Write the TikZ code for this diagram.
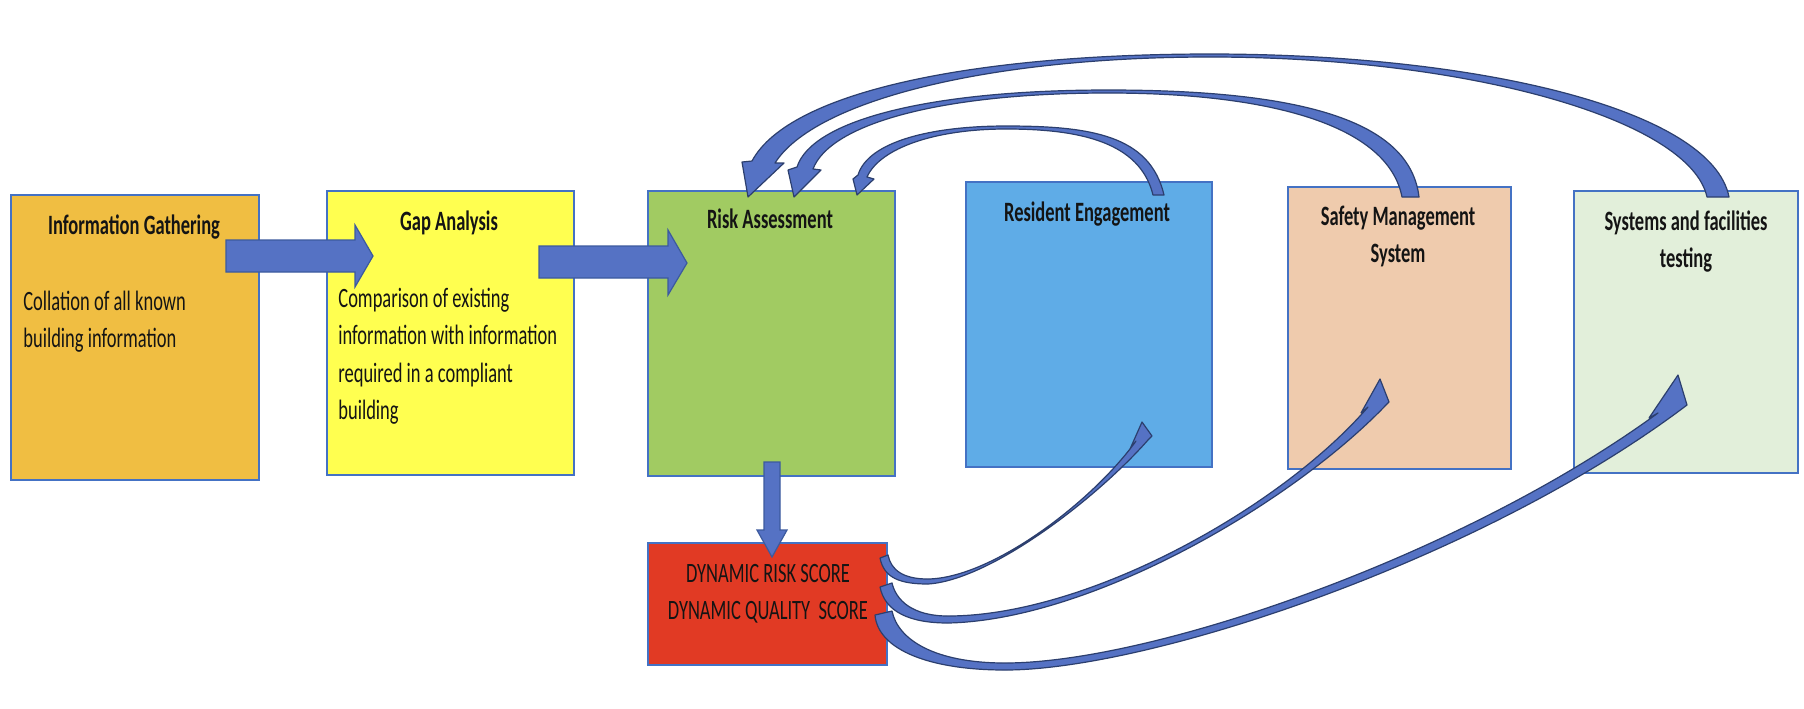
\documentclass[tikz,border=0pt]{standalone}
\usepackage{fontspec}
\setmainfont{Carlito}[FakeStretch=0.66]
\usepackage{tikz}
\usetikzlibrary{calc}
\definecolor{fg}{HTML}{141414}
\definecolor{boxline}{HTML}{4472C4}
\definecolor{infofill}{HTML}{F0BE42}
\definecolor{gapfill}{HTML}{FFFF50}
\definecolor{riskfill}{HTML}{A1CB62}
\definecolor{resfill}{HTML}{5FACE7}
\definecolor{smsfill}{HTML}{EFCBAD}
\definecolor{sysfill}{HTML}{E2EFDA}
\definecolor{scorefill}{HTML}{E13A24}
\definecolor{arrowfill}{HTML}{5572C4}
\definecolor{arrowedge}{HTML}{3C5A9E}
\definecolor{ribbonedge}{HTML}{2C3F6E}
\newcommand{\diagfont}{\fontsize{14pt}{18.75pt}\selectfont}
\tikzset{
  stagebox/.style={draw=boxline,line width=0.7pt,inner sep=0pt,outer sep=0pt},
  tightspace/.style={execute at begin node={\spaceskip=0.15em\xspaceskip=0.2em\relax}},
  heading/.style={font=\diagfont\bfseries,text=fg,inner sep=0pt,anchor=base,tightspace},
  bodytext/.style={font=\diagfont,text=fg,inner sep=0pt,anchor=base west,align=left,tightspace},
  scoretext/.style={font=\diagfont,text=fg,inner sep=0pt,anchor=base,align=center,tightspace},
  blockarrow/.style={fill=arrowfill,draw=arrowedge,line width=0.6pt},
  ribbon/.style={fill=arrowfill,draw=ribbonedge,line width=0.6pt,line join=round}
}

\begin{document}
\begin{tikzpicture}[x=0.5pt,y=-0.5pt]
  \fill[white] (0,0) rectangle (1804,708);
  \useasboundingbox (0,0) rectangle (1804,708);

  % stages
  \node[stagebox,fill=infofill,minimum width=124pt,minimum height=142.5pt] (info) at (135,337.5) {};
  \node[stagebox,fill=gapfill,minimum width=123.5pt,minimum height=142pt] (gap) at (450.5,333) {};
  \node[stagebox,fill=riskfill,minimum width=123.5pt,minimum height=142.5pt] (risk) at (771.5,333.5) {};
  \node[stagebox,fill=resfill,minimum width=123pt,minimum height=142.5pt] (res) at (1089,324.5) {};
  \node[stagebox,fill=smsfill,minimum width=111.5pt,minimum height=141pt] (sms) at (1399.5,328) {};
  \node[stagebox,fill=sysfill,minimum width=112pt,minimum height=141pt] (sys) at (1686,332) {};
  \node[stagebox,fill=scorefill,minimum width=119.5pt,minimum height=61pt] (score) at (767.5,604) {};

  % block arrows along the chain
  \draw[blockarrow] ([shift={(-33,45)}]info.north east) -- ++(129,0) -- ++(0,-15) -- ++(18,31)
    -- ++(-18,31) -- ++(0,-15) -- ++(-129,0) -- cycle;
  \draw[blockarrow] ([shift={(-35,55)}]gap.north east) -- ++(129,0) -- ++(0,-16) -- ++(19,33)
    -- ++(-19,32) -- ++(0,-17) -- ++(-129,0) -- cycle;
  \draw[blockarrow] ([shift={(-7.5,-14)}]risk.south) -- ++(16,0) -- ++(0,68) -- ++(7,0)
    -- ++(-15,27) -- ++(-15,-27) -- ++(7,0) -- cycle;

  % texts
  \node[heading] (infoHead) at (134,234) {Information Gathering};
  \node[bodytext,text width=118pt] (infoBody) at (23,310) {Collation of all known\\building information};
  \node[heading] (gapHead) at (449,230) {Gap Analysis};
  \node[bodytext,text width=118pt] (gapBody) at (338,307)
    {Comparison of existing\\information with information\\required in a compliant\\building};
  \node[heading] (riskHead) at (770,228) {Risk Assessment};
  \node[heading] (resHead) at (1087,221) {Resident Engagement};
  \node[heading,text width=105pt,align=center] (smsHead) at (1398,225) {Safety Management\\System};
  \node[heading,text width=105pt,align=center] (sysHead) at (1686,230) {Systems and facilities\\testing};
  \node[scoretext,text width=112pt] (scoreText) at (768,582) {DYNAMIC RISK SCORE\\DYNAMIC QUALITY\ \ SCORE};

  % feedback into the risk assessment
  \draw[ribbon] ([shift={(43,6)}]sys.north) .. controls (1712,110) and (1480,54) .. (1210,54)
    .. controls (980,54) and (790,90) .. (752,161) -- (742,162) -- ([shift={(-23.5,6)}]risk.north)
    -- (784,163) -- (775,163) .. controls (815,100) and (990,57) .. (1210,57)
    .. controls (1470,57) and (1690,120) .. ([shift={(21,6)}]sys.north) -- cycle;
  \draw[ribbon] ([shift={(19.5,10)}]sms.north) .. controls (1410,120) and (1300,90) .. (1108,90)
    .. controls (930,90) and (812,120) .. (797,167) -- (788,170) -- ([shift={(22.5,6)}]risk.north)
    -- (821,170) -- (813,169) .. controls (830,124) and (940,93) .. (1108,93)
    .. controls (1270,93) and (1388,125) .. ([shift={(2.5,10)}]sms.north) -- cycle;
  \draw[ribbon] ([shift={(75,13)}]res.north) .. controls (1150,135) and (1090,126) .. (1006,126)
    .. controls (930,126) and (868,142) .. (858,175) -- (853,179) -- ([shift={(85.5,4)}]risk.north)
    -- (874,179) -- (867,177) .. controls (880,148) and (935,129) .. (1006,129)
    .. controls (1080,129) and (1140,142) .. ([shift={(64,13)}]res.north) -- cycle;

  % scores handed on to the other stages
  \draw[ribbon] ([shift={(-7,-46)}]score.east) .. controls (884,578) and (900,584) .. (928,584)
    .. controls (990,580) and (1095,500) .. (1148,440) -- (1152,436) -- ([shift={(53,-45)}]res.south)
    -- (1130,449) -- (1136,441) .. controls (1092,502) and (992,578) .. (928,579)
    .. controls (903,579) and (891,570) .. ([shift={(1,-49)}]score.east) -- cycle;
  \draw[ribbon] ([shift={(-7,-17)}]score.east) .. controls (885,612) and (910,623) .. (948,623)
    .. controls (1090,620) and (1290,505) .. (1386,405) -- (1389,402) -- ([shift={(-19.5,-90)}]sms.south)
    -- (1361,413) -- (1368,407) .. controls (1282,507) and (1088,616) .. (948,616)
    .. controls (912,616) and (896,600) .. ([shift={(5,-21)}]score.east) -- cycle;
  \draw[ribbon] ([shift={(-12,11)}]score.east) .. controls (878,650) and (930,670) .. (1005,670)
    .. controls (1150,670) and (1480,560) .. (1683,408) -- (1687,405) -- ([shift={(-8,-98)}]sys.south)
    -- (1649,418) -- (1658,413) .. controls (1462,556) and (1152,663) .. (1005,663)
    .. controls (935,663) and (898,640) .. ([shift={(5,7)}]score.east) -- cycle;
\end{tikzpicture}
\end{document}
